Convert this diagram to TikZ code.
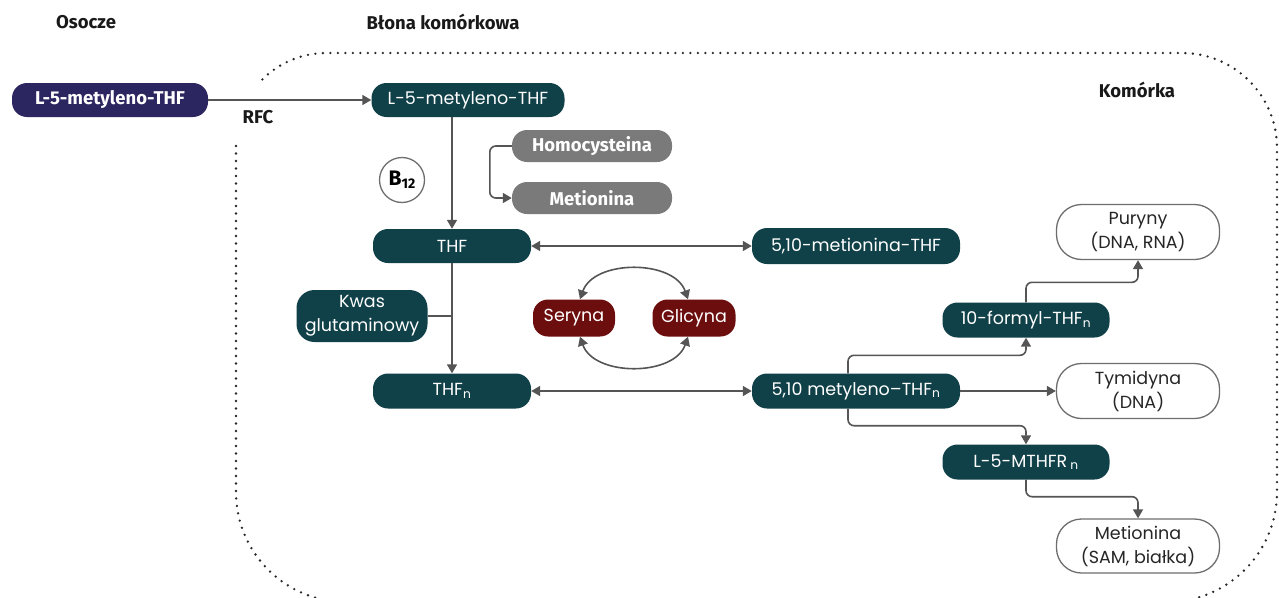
\documentclass[tikz,border=0pt]{standalone}
\usepackage{fontspec}
\setmainfont{Poppins}
\newfontfamily\labfont{Fira Sans}
\usetikzlibrary{arrows.meta}
\definecolor{navybox}{RGB}{43,37,96}
\definecolor{tealbox}{RGB}{16,64,72}
\definecolor{graybox}{RGB}{122,122,122}
\definecolor{redbox}{RGB}{108,14,14}
\definecolor{arrowc}{RGB}{85,85,85}
\definecolor{outl}{RGB}{110,110,110}
\definecolor{dotc}{RGB}{40,40,40}
\tikzset{
  box/.style={rounded corners=15pt, inner sep=0pt, align=center, text=white, font=\fontsize{17.5}{24}\selectfont},
  tbox/.style={box, fill=tealbox},
  nbox/.style={box, fill=navybox, font=\labfont\bfseries\fontsize{18.5}{22}\selectfont},
  gbox/.style={box, fill=graybox, font=\labfont\bfseries\fontsize{18.5}{22}\selectfont},
  rbox/.style={box, fill=redbox},
  wbox/.style={box, draw=outl, line width=1.3pt, text=black!85, fill=white, rounded corners=25pt},
  arr/.style={draw=arrowc, line width=1.6pt, -{Triangle[length=9pt,width=10pt]}},
  darr/.style={draw=arrowc, line width=1.6pt, {Triangle[length=9pt,width=10pt]}-{Triangle[length=9pt,width=10pt]}},
  plain/.style={draw=arrowc, line width=1.6pt},
  lbl/.style={font=\labfont\bfseries\fontsize{18.5}{22}\selectfont, text=black!90},
  dotline/.style={draw=dotc, line width=2.6pt, line cap=round, dash pattern=on 0pt off 7.5pt}
}
\begin{document}
\begin{tikzpicture}[x=1pt,y=1pt]
\useasboundingbox (0,0) rectangle (1279,-597);
\fill[white] (0,0) rectangle (1279,-597);

% cell boundary
\begin{scope}
\clip (0,0) rectangle (1279,-597);
\draw[dotline] (262.4,-79.4) arc[start angle=135,end angle=90,radius=90]
  -- (1182,-53) arc[start angle=90,end angle=0,radius=95]
  -- (1277,-492) arc[start angle=0,end angle=-90,radius=110]
  -- (346,-602) arc[start angle=270,end angle=180,radius=110]
  -- (236,-143);
\end{scope}

% labels
\node[lbl] (osocze) at (86,-22) {Osocze};
\node[lbl] (blona) at (443,-22) {Błona komórkowa};
\node[lbl] (komorka) at (1137,-90) {Komórka};
\node[lbl] (rfc) at (258,-117) {RFC};

% nodes
\node[nbox, minimum width=196pt, minimum height=34pt] (l5out) at (110,-100) {L-5-metyleno-THF};
\node[tbox, minimum width=193pt, minimum height=34pt] (l5in) at (468,-100) {L-5-metyleno-THF};
\node[gbox, minimum width=160pt, minimum height=32pt] (homo) at (592,-146) {Homocysteina};
\node[gbox, minimum width=160pt, minimum height=32pt] (met) at (592,-198) {Metionina};
\node[circle, draw=outl, line width=1.3pt, minimum size=45pt, inner sep=0pt, font=\labfont\bfseries\fontsize{21}{24}\selectfont] (b12) at (402,-180) {B\raisebox{-0.25ex}{\fontsize{14}{16}\selectfont 12}};
\node[tbox, minimum width=158pt, minimum height=34pt] (thf) at (452,-246) {THF};
\node[tbox, minimum width=208pt, minimum height=36pt] (m510) at (856,-246) {5,10-metionina-THF};
\node[tbox, minimum width=131pt, minimum height=52pt, rounded corners=18pt] (kwas) at (362,-316) {Kwas\\glutaminowy};
\node[rbox, minimum width=82pt, minimum height=37pt] (ser) at (574,-318) {Seryna};
\node[rbox, minimum width=83pt, minimum height=37pt] (gli) at (694,-318) {Glicyna};
\node[tbox, minimum width=158pt, minimum height=35pt] (thfn) at (452,-391) {THF\textsubscript{n}};
\node[tbox, minimum width=208pt, minimum height=35pt] (m510n) at (856,-391) {5,10 metyleno–THF\textsubscript{n}};
\node[tbox, minimum width=167pt, minimum height=35pt] (form) at (1026,-320) {10-formyl-THF\textsubscript{n}};
\node[tbox, minimum width=167pt, minimum height=35pt] (mthfr) at (1026,-462) {L-5-MTHFR\,\textsubscript{n}};
\node[wbox, minimum width=163pt, minimum height=55pt] (pur) at (1138,-232) {Puryny\\(DNA, RNA)};
\node[wbox, minimum width=163pt, minimum height=55pt] (tym) at (1138,-391) {Tymidyna\\(DNA)};
\node[wbox, minimum width=163pt, minimum height=54pt] (metsam) at (1138,-546) {Metionina\\(SAM, białka)};

% connectors
\draw[arr] (l5out.east) -- (l5in.west);
\draw[arr] (thf.north |- l5in.south) -- (thf.north);
\draw[arr, rounded corners=6pt] (homo.west) -- ++(-22,0) |- (met.west);
\draw[darr] (thf.east) -- (m510.west);
\draw[arr] (thf.south) -- (thfn.north);
\draw[plain] (kwas.east) -- (kwas.east -| thf.south);
\draw[darr] ([xshift=6pt]ser.north) .. controls +(14,40) and +(-14,40) .. ([xshift=-6pt]gli.north);
\draw[darr] ([xshift=6pt]ser.south) .. controls +(14,-40) and +(-14,-40) .. ([xshift=-6pt]gli.south);
\draw[darr] (thfn.east) -- (m510n.west);
\draw[arr] (m510n.east) -- (tym.west);
\draw[arr, rounded corners=6pt] ([xshift=-8pt]m510n.north) -- ++(0,18) -| (form.south);
\draw[arr, rounded corners=6pt] (form.north) -- ++(0,20) -| (pur.south);
\draw[arr, rounded corners=6pt] ([xshift=-8pt]m510n.south) -- ++(0,-17) -| (mthfr.north);
\draw[arr, rounded corners=6pt] (mthfr.south) -- ++(0,-17) -| (metsam.north);
\end{tikzpicture}
\end{document}
